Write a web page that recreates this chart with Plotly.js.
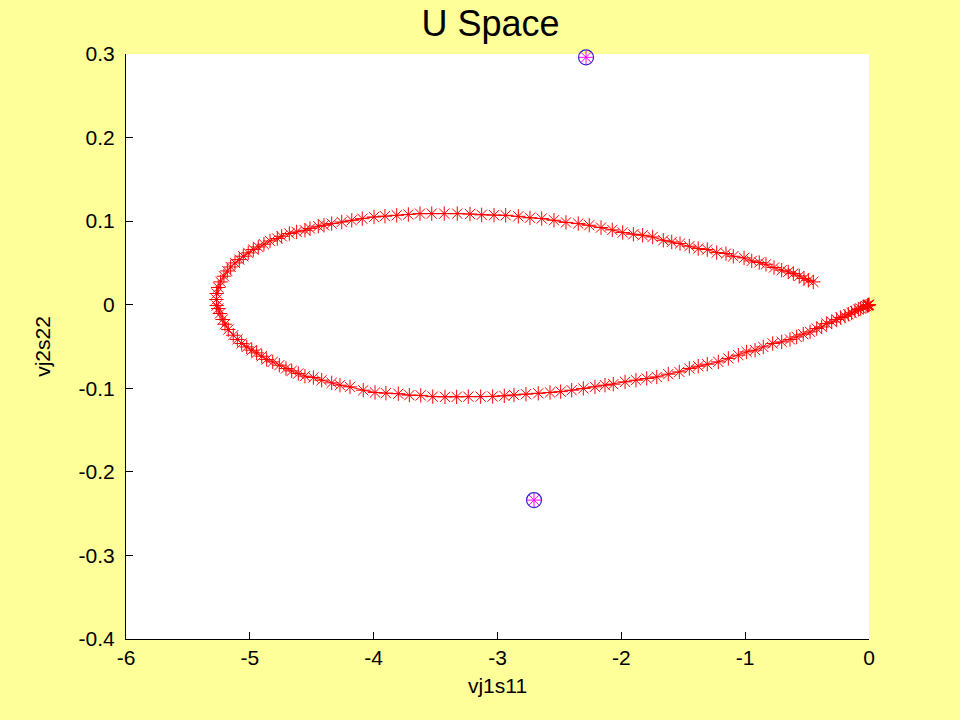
<!DOCTYPE html>
<html>
<head>
<meta charset="utf-8">
<script src="https://cdn.plot.ly/plotly-3.0.1.min.js"></script>
<style>html,body{margin:0;padding:0;background:#ffff99;}#chart{width:960px;height:720px;}</style>
</head>
<body>
<div id="chart"></div>
<script>
// Trajectory in U space (upper branch from right end, around the tip, lower branch to origin)
const trajX = [
 -0.450,-0.490,-0.525,-0.563,-0.611,-0.652,-0.705,-0.767,-0.832,-0.886,-0.947,-1.009,-1.096,-1.155,-1.230,-1.306,-1.379,-1.451,-1.526,-1.593,-1.661,-1.747,-1.828,-1.903,-1.989,-2.073,-2.164,-2.259,-2.348,-2.447,-2.544,-2.643,-2.738,-2.832,-2.934,-3.028,-3.128,-3.222,-3.325,-3.430,-3.531,-3.626,-3.720,-3.814,-3.909,-3.997,-4.092,-4.177,
 -4.258,-4.339,-4.401,-4.447,-4.514,-4.555,-4.622,-4.681,-4.743,-4.778,-4.837,-4.886,-4.932,-4.972,-5.013,-5.053,-5.085,-5.120,-5.155,-5.182,-5.209,-5.236,-5.255,-5.268,-5.270,-5.268,
 -5.255,-5.241,-5.219,-5.201,-5.174,-5.134,-5.101,-5.066,-5.025,-4.985,-4.945,-4.904,-4.864,-4.815,-4.762,-4.708,-4.662,-4.609,-4.555,-4.487,-4.420,-4.339,-4.272,-4.191,
 -4.084,-3.989,-3.901,-3.801,-3.712,-3.620,-3.523,-3.424,-3.330,-3.236,-3.136,-3.039,-2.945,-2.867,-2.770,-2.671,-2.576,-2.490,-2.401,-2.307,-2.213,
 -2.132,-2.065,-1.970,-1.882,-1.795,-1.714,-1.621,-1.532,-1.451,-1.379,-1.306,-1.217,-1.136,-1.055,-0.988,-0.920,-0.854,-0.778,-0.705,-0.638,-0.584,-0.531,-0.476,-0.422,-0.382,-0.342,-0.301,-0.261,-0.229,-0.194,-0.167,-0.140,-0.113,-0.086,-0.067,-0.046,-0.024,-0.012,-0.006,-0.002,0.000
];
const trajY = [
 0.0273,0.0293,0.0313,0.0344,0.0373,0.0392,0.0413,0.0445,0.0484,0.0505,0.0524,0.0560,0.0580,0.0612,0.0624,0.0660,0.0672,0.0700,0.0732,0.0751,0.0771,0.0811,0.0831,0.0843,0.0864,0.0895,0.0923,0.0951,0.0971,0.0985,0.1011,0.1031,0.1040,0.1058,0.1070,0.1072,0.1075,0.1085,0.1090,0.1090,0.1090,0.1090,0.1080,0.1070,0.1060,0.1050,0.1030,0.1010,
 0.0990,0.0971,0.0951,0.0939,0.0911,0.0891,0.0871,0.0852,0.0819,0.0792,0.0763,0.0724,0.0691,0.0660,0.0620,0.0580,0.0540,0.0500,0.0452,0.0404,0.0341,0.0273,0.0206,0.0134,0.0062,-0.0010,
 -0.0045,-0.0105,-0.0177,-0.0233,-0.0297,-0.0365,-0.0416,-0.0464,-0.0505,-0.0544,-0.0576,-0.0616,-0.0655,-0.0684,-0.0724,-0.0763,-0.0792,-0.0823,-0.0855,-0.0871,-0.0903,-0.0935,-0.0963,-0.0983,
 -0.1023,-0.1050,-0.1058,-0.1065,-0.1082,-0.1085,-0.1100,-0.1103,-0.1103,-0.1100,-0.1100,-0.1098,-0.1090,-0.1080,-0.1070,-0.1060,-0.1050,-0.1040,-0.1023,-0.1002,-0.0983,
 -0.0963,-0.0951,-0.0923,-0.0903,-0.0883,-0.0864,-0.0831,-0.0804,-0.0763,-0.0736,-0.0712,-0.0684,-0.0643,-0.0604,-0.0565,-0.0544,-0.0505,-0.0464,-0.0445,-0.0416,-0.0385,-0.0353,-0.0325,-0.0285,-0.0266,-0.0225,-0.0206,-0.0177,-0.0153,-0.0138,-0.0114,-0.0098,-0.0074,-0.0057,-0.0045,-0.0026,-0.0018,-0.0010,-0.0006,-0.0002,0.0000
];
// Two special points
const specX = [-2.285, -2.705];
const specY = [0.296, -0.2338];

// Axis ticks
const xTickVals = [-6,-5,-4,-3,-2,-1,0];
const xTickText = ['-6','-5','-4','-3','-2','-1','0'];
const yTickVals = [-0.4,-0.3,-0.2,-0.1,0,0.1,0.2,0.3];
const yTickText = ['-0.4','-0.3','-0.2','-0.1','0','0.1','0.2','0.3'];

const FONT = '"Liberation Sans", Arial, sans-serif';

const traces = [
  {
    x: trajX, y: trajY, type: 'scatter', mode: 'lines+markers',
    line: {color: '#ff0000', width: 1},
    marker: {symbol: 'asterisk-open', size: 12, color: '#ff0000', line: {color: '#ff0000', width: 1}},
    cliponaxis: false, hoverinfo: 'skip', showlegend: false
  },
  {
    x: specX, y: specY, type: 'scatter', mode: 'markers',
    marker: {symbol: 'circle-open', size: 15, color: '#3322cc', line: {color: '#3322cc', width: 1.2}},
    cliponaxis: false, hoverinfo: 'skip', showlegend: false
  },
  {
    x: specX, y: specY, type: 'scatter', mode: 'markers',
    marker: {symbol: 'asterisk-open', size: 12, color: '#ff00ff', line: {color: '#ff00ff', width: 1}},
    cliponaxis: false, hoverinfo: 'skip', showlegend: false
  }
];

const layout = {
  width: 960, height: 720,
  paper_bgcolor: '#ffff99',
  plot_bgcolor: '#ffffff',
  margin: {l: 126, r: 91, t: 54, b: 81, pad: 0},
  font: {family: FONT, color: '#000000', size: 21},
  title: {text: 'U Space', x: 0.511, xanchor: 'center', xref: 'container', y: 0.967, yanchor: 'middle', yref: 'container', font: {family: FONT, size: 36, color: '#000000'}},
  xaxis: {
    range: [-6, 0], tickmode: 'array', tickvals: xTickVals, ticktext: xTickText,
    ticks: 'inside', ticklen: 7, tickcolor: '#000', tickwidth: 1,
    showline: true, linecolor: '#000', linewidth: 1, mirror: false,
    showgrid: false, zeroline: false, tickfont: {size: 21},
    title: {text: 'vj1s11', font: {size: 21}, standoff: 10}
  },
  yaxis: {
    range: [-0.4, 0.3], tickmode: 'array', tickvals: yTickVals, ticktext: yTickText,
    ticks: 'inside', ticklen: 7, tickcolor: '#000', tickwidth: 1,
    showline: true, linecolor: '#000', linewidth: 1, mirror: false,
    showgrid: false, zeroline: false, tickfont: {size: 21},
    ticklabelstandoff: 6,
    title: {text: 'vj2s22', font: {size: 21}, standoff: 22}
  }
};

Plotly.newPlot('chart', traces, layout, {displayModeBar: false, staticPlot: true});
</script>
</body>
</html>
